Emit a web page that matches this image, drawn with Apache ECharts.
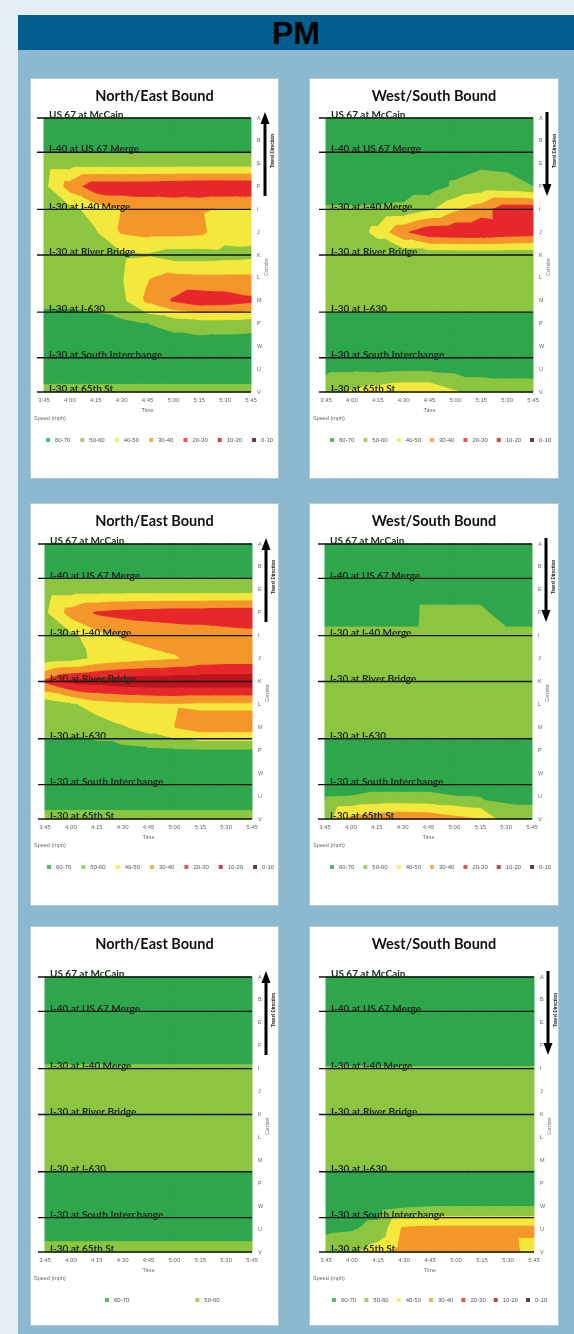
<!DOCTYPE html>
<html>
<head>
<meta charset="utf-8">
<title>PM</title>
<script src="https://cdn.jsdelivr.net/npm/echarts@6/dist/echarts.min.js"></script>
<style>
  body { margin: 0; width: 574px; height: 1334px; background: #e6eff5; position: relative; overflow: hidden; }
  #head { position: absolute; left: 18px; top: 15px; width: 556px; height: 35px; background: #005f8f;
          text-align: center; line-height: 35px; font: bold 32px "Liberation Sans", Arial, sans-serif; color: #000; }
  #panel { position: absolute; left: 18px; top: 50px; width: 556px; height: 1284px; background: #8db9d0; }
  .card { position: absolute; background: #fff; outline: 1px solid #b2c8d6; }
</style>
</head>
<body>
<div id="head">PM</div>
<div id="panel"></div>
<div class="card" id="ne-top" style="left:31px;top:79px;width:247px;height:399px"></div>
<div class="card" id="ws-top" style="left:310px;top:79px;width:248px;height:399px"></div>
<div class="card" id="ne-mid" style="left:31px;top:504px;width:247px;height:401px"></div>
<div class="card" id="ws-mid" style="left:310px;top:504px;width:248px;height:401px"></div>
<div class="card" id="ne-low" style="left:31px;top:927px;width:247px;height:398px"></div>
<div class="card" id="ws-low" style="left:310px;top:927px;width:248px;height:398px"></div>
<script>
var times = ['3:45', '4:00', '4:15', '4:30', '4:45', '5:00', '5:15', '5:30', '5:45'];
var segments = ['A', 'B', 'E', 'F', 'I', 'J', 'K', 'L', 'M', 'P', 'W', 'U', 'V'];
var landmarks = ['US 67 at McCain', 'I-40 at US 67 Merge', 'I-30 at I-40 Merge', 'I-30 at River Bridge',
  'I-30 at I-630', 'I-30 at South Interchange', 'I-30 at 65th St'];
var landmarkRow = [0, 1.5, 4, 6, 8.5, 10.5, 12];
var speedBands = ['60-70', '50-60', '40-50', '30-40', '20-30', '10-20', '0-10'];
var bandFloor = [60, 50, 40, 30, 20, 10, 0];
var bandColors = ['#2ea64c', '#8cc540', '#f4e83c', '#f4962a', '#e8272b', '#bd141c', '#3a0b0b'];

// speed (mph): one row per segment A..V, one value per time 3:45..5:45
var neTop = [
  [66, 66, 66, 66, 66, 66, 66, 66, 66],
  [65, 65, 65, 65, 65, 65, 65, 65, 65],
  [55, 55, 55, 55, 55, 55, 55, 55, 55],
  [53, 36, 24, 24, 24, 23, 22, 22, 22],
  [56, 53, 46, 40, 38, 38, 39, 41, 41],
  [57, 56, 51, 39, 37, 37, 38, 45, 46],
  [57, 56, 54, 52, 51, 55, 55, 54, 53],
  [57, 56, 55, 51, 41, 37, 38, 38, 38],
  [58, 58, 57, 53, 38, 29, 24, 25, 28],
  [64, 64, 63, 62, 60, 57, 55, 55, 56],
  [65, 65, 65, 65, 65, 65, 65, 66, 66],
  [66, 66, 66, 66, 66, 66, 66, 66, 66],
  [57, 57, 57, 57, 57, 57, 57, 57, 57]
];
var wsTop = [
  [66, 66, 66, 66, 66, 66, 66, 66, 66],
  [66, 66, 66, 66, 66, 66, 66, 66, 66],
  [65, 65, 65, 65, 65, 64, 61.5, 62, 65],
  [65, 65, 65, 65, 65, 58.5, 56, 57, 60],
  [59, 59, 59, 58, 52, 42, 35, 24, 24],
  [57, 56, 47, 32, 23, 22, 22, 24, 25],
  [58, 58, 58, 58, 58, 58, 58, 58, 58],
  [57, 57, 57, 57, 57, 57, 57, 57, 57],
  [57, 57, 57, 57, 57, 57, 57, 57, 57],
  [63, 63, 63, 63, 63, 63, 63, 63, 63],
  [65, 65, 65, 65, 65, 65, 65, 65, 65],
  [62, 62, 63, 62, 62, 63, 63, 63, 63],
  [55, 49, 45, 42, 42, 49, 55, 56, 56]
];
var neMid = [
  [66, 66, 66, 66, 66, 66, 66, 66, 66],
  [65, 65, 65, 65, 65, 65, 65, 65, 65],
  [55, 55, 55, 55, 55, 55, 55, 55, 55],
  [52, 36, 29, 27, 26, 25, 25, 24, 24],
  [55, 53, 44, 39, 37, 36, 35, 34, 33],
  [56, 54, 48, 45, 43, 41, 37, 36, 36],
  [28, 18, 16, 14, 13, 13, 13, 13, 13],
  [57, 52, 45, 43, 42, 41, 42, 42, 42],
  [57, 58, 56, 51, 46, 40, 35, 35, 35],
  [63, 63, 63, 63, 62, 61.5, 61, 61, 61],
  [65, 65, 65, 65, 65, 65, 65, 65, 65],
  [65, 65, 65, 65, 65, 65, 65, 65, 65],
  [57, 57, 57, 57, 57, 57, 57, 57, 57]
];
var wsMid = [
  [66, 66, 66, 66, 66, 66, 66, 66, 66],
  [66, 66, 66, 66, 66, 66, 66, 66, 66],
  [65, 65, 65, 65, 65, 65, 65, 65, 65],
  [65, 65, 65, 65, 57.5, 57.5, 57.5, 65, 65],
  [57, 57, 57, 57, 57, 57, 57, 57, 57],
  [57, 57, 57, 57, 57, 57, 57, 57, 57],
  [57, 57, 57, 57, 57, 57, 57, 57, 57],
  [57, 57, 57, 57, 57, 57, 57, 57, 57],
  [57, 57, 57, 57, 57, 57, 57, 57, 57],
  [63, 63, 63, 63, 63, 63, 63, 63, 63],
  [65, 65, 65, 65, 65, 65, 65, 65, 65],
  [61, 60, 59, 59, 59, 60, 61, 62, 62],
  [56, 38, 34, 32, 33, 37, 40.5, 56, 57]
];
var neLow = [
  [66, 66, 66, 66, 66, 66, 66, 66, 66],
  [65, 65, 65, 65, 65, 65, 65, 65, 65],
  [65, 65, 65, 65, 65, 65, 65, 65, 65],
  [65, 65, 65, 65, 65, 65, 65, 65, 65],
  [59, 59, 59, 59, 59, 59, 59, 59, 59],
  [57, 57, 57, 57, 57, 57, 57, 57, 57],
  [57, 57, 57, 57, 57, 57, 57, 57, 57],
  [57, 57, 57, 57, 57, 57, 57, 57, 57],
  [57, 57, 57, 57, 57, 57, 57, 57, 57],
  [63, 63, 63, 63, 63, 63, 63, 63, 63],
  [65, 65, 65, 65, 65, 65, 65, 65, 65],
  [65, 65, 65, 65, 65, 65, 65, 65, 65],
  [56, 56, 56, 56, 56, 56, 56, 56, 56]
];
var wsLow = [
  [66, 66, 66, 66, 66, 66, 66, 66, 66],
  [65, 65, 65, 65, 65, 65, 65, 65, 65],
  [65, 65, 65, 65, 65, 65, 65, 65, 65],
  [65, 65, 65, 65, 65, 65, 65, 65, 65],
  [59.5, 59.5, 59.5, 59.5, 59.5, 59.5, 59.5, 59.5, 59.5],
  [57, 57, 57, 57, 57, 57, 57, 57, 57],
  [57, 57, 57, 57, 57, 57, 57, 57, 57],
  [57, 57, 57, 57, 57, 57, 57, 57, 57],
  [57, 57, 57, 57, 57, 57, 57, 57, 57],
  [64, 64, 64, 64, 64, 64, 64, 64, 64],
  [65, 65, 65, 62, 60.5, 60.5, 60.5, 60.5, 60.5],
  [62, 61, 57, 38, 37, 37, 37, 37, 37],
  [55, 52, 45, 35, 35, 35, 35, 36, 45]
];

var cards = [
  {id: 'ne-top', title: 'North/East Bound', speeds: neTop, up: true,
   grid: {left: 13, right: 27, top: 39, bottom: 86}, legend: speedBands, legendLeft: 10, legendGap: 10},
  {id: 'ws-top', title: 'West/South Bound', speeds: wsTop, up: false,
   grid: {left: 16, right: 25, top: 39, bottom: 86}, legend: speedBands, legendLeft: 15, legendGap: 9},
  {id: 'ne-mid', title: 'North/East Bound', speeds: neMid, up: true,
   grid: {left: 14, right: 26, top: 40, bottom: 86}, legend: speedBands, legendLeft: 11, legendGap: 10},
  {id: 'ws-mid', title: 'West/South Bound', speeds: wsMid, up: false,
   grid: {left: 15, right: 26, top: 40, bottom: 86}, legend: speedBands, legendLeft: 15, legendGap: 9},
  {id: 'ne-low', title: 'North/East Bound', speeds: neLow, up: true,
   grid: {left: 14, right: 26, top: 50, bottom: 73}, legend: speedBands.slice(0, 2), legendLeft: 69, legendGap: 66},
  {id: 'ws-low', title: 'West/South Bound', speeds: wsLow, up: false,
   grid: {left: 16, right: 24, top: 50, bottom: 73}, legend: speedBands, legendLeft: 17, legendGap: 8}
];

// keep the part of a polygon on one side of a speed level (sign 1: above, -1: below)
function clip(poly, level, sign) {
  var out = [];
  for (var i = 0; i < poly.length; i++) {
    var p = poly[i], q = poly[(i + 1) % poly.length];
    var pin = sign * (p[2] - level) >= 0, qin = sign * (q[2] - level) >= 0;
    if (pin) out.push(p);
    if (pin !== qin) {
      var t = (level - p[2]) / (q[2] - p[2]);
      out.push([p[0] + t * (q[0] - p[0]), p[1] + t * (q[1] - p[1]), level]);
    }
  }
  return out;
}

function toCells(speeds) {
  var cells = [];
  for (var r = 0; r < speeds.length - 1; r++) {
    for (var c = 0; c < times.length - 1; c++) {
      cells.push([c, r, speeds[r][c], speeds[r][c + 1], speeds[r + 1][c], speeds[r + 1][c + 1]]);
    }
  }
  return cells;
}

// filled contour bands for one grid cell
function renderCell(params, api) {
  var c = api.value(0), r = api.value(1);
  function corner(dc, dr, k) {
    var p = api.coord([c + dc, r + dr]);
    return [p[0], p[1], api.value(k)];
  }
  var a = corner(0, 0, 2), b = corner(1, 0, 3), d = corner(0, 1, 4), e = corner(1, 1, 5);
  var children = [];
  [[a, b, e], [a, e, d]].forEach(function(tri) {
    for (var k = 0; k < bandFloor.length; k++) {
      var poly = clip(clip(tri, bandFloor[k], 1), bandFloor[k] + 10, -1);
      if (poly.length >= 3) {
        children.push({
          type: 'polygon',
          shape: {points: poly.map(function(p) { return [p[0], p[1]]; })},
          style: {fill: bandColors[k], stroke: bandColors[k], lineWidth: 1}
        });
      }
    }
  });
  return {type: 'group', children: children};
}

function renderLandmark(params, api) {
  var y = api.coord([0, api.value(1)])[1];
  var x0 = params.coordSys.x, x1 = x0 + params.coordSys.width;
  return {
    type: 'group',
    children: [
      {type: 'line', shape: {x1: x0 - 7, y1: y, x2: x1, y2: y}, style: {stroke: '#111', lineWidth: 1.4}},
      {type: 'text', x: x0 + 5, y: y + 2,
       style: {text: landmarks[params.dataIndex], fill: '#1c2a1c', align: 'left', verticalAlign: 'bottom',
               fontFamily: 'Lato', fontWeight: 'bold', fontSize: 10}}
    ]
  };
}

function arrowGraphic(cfg, w) {
  var ax = w - cfg.grid.right + 14;
  var top = cfg.grid.top - 6, bottom = cfg.grid.top + 78;
  var tip = cfg.up ? top : bottom;
  var base = cfg.up ? top + 12 : bottom - 12;
  return [
    {type: 'line', shape: {x1: ax, y1: cfg.up ? base : top, x2: ax, y2: cfg.up ? bottom : base},
     style: {stroke: '#000', lineWidth: 3}},
    {type: 'polygon', shape: {points: [[ax - 4.5, base], [ax + 4.5, base], [ax, tip]]}, style: {fill: '#000'}},
    {type: 'text', x: ax + 8, y: cfg.grid.top + 33, rotation: Math.PI / 2,
     style: {text: 'Travel Direction', fill: '#222', align: 'center', verticalAlign: 'middle',
             fontFamily: 'Liberation Sans', fontWeight: 'bold', fontSize: 4.5}},
    {type: 'text', x: ax + 2, y: cfg.grid.top + 149, rotation: Math.PI / 2,
     style: {text: 'Corridor', fill: '#777', align: 'center', verticalAlign: 'middle',
             fontFamily: 'Liberation Sans', fontSize: 5}}
  ];
}

cards.forEach(function(cfg) {
  var dom = document.getElementById(cfg.id);
  var w = dom.clientWidth, h = dom.clientHeight;
  var chart = echarts.init(dom, null, {renderer: 'canvas'});
  var plotBottom = h - cfg.grid.bottom;

  var series = [{
    type: 'custom',
    renderItem: renderCell,
    data: toCells(cfg.speeds),
    encode: {x: 0, y: 1},
    silent: true,
    z: 1
  }, {
    type: 'custom',
    renderItem: renderLandmark,
    data: landmarkRow.map(function(v) { return [0, v]; }),
    encode: {x: 0, y: 1},
    clip: false,
    silent: true,
    z: 5
  }];
  speedBands.forEach(function(name, i) {
    series.push({name: name, type: 'scatter', data: [], itemStyle: {color: bandColors[i]}});
  });

  chart.setOption({
    animation: false,
    title: {
      text: cfg.title, left: 'center', top: 5,
      textStyle: {fontFamily: 'Lato', fontWeight: 'bold', fontSize: 14.5, color: '#111'}
    },
    legend: {
      data: cfg.legend, left: cfg.legendLeft, top: plotBottom + 40, width: w,
      icon: 'rect', itemWidth: 4, itemHeight: 4, itemGap: cfg.legendGap,
      textStyle: {fontSize: 6, color: '#555', fontFamily: 'Liberation Sans'}
    },
    grid: cfg.grid,
    xAxis: {
      type: 'value', min: 0, max: 8, interval: 1,
      name: 'Time', nameLocation: 'middle', nameGap: 14,
      nameTextStyle: {fontSize: 5.5, color: '#666'},
      axisLine: {show: false}, axisTick: {show: false}, splitLine: {show: false},
      axisLabel: {
        fontSize: 6, color: '#666', margin: 5, showMinLabel: true, showMaxLabel: true,
        formatter: function(v) { return times[v]; }
      }
    },
    yAxis: {
      type: 'value', inverse: true, min: 0, max: 12, interval: 1, position: 'right',
      axisLine: {show: false}, axisTick: {show: false}, splitLine: {show: false},
      axisLabel: {
        fontSize: 5.5, color: '#666', margin: 6,
        formatter: function(v) { return segments[v]; }
      }
    },
    graphic: arrowGraphic(cfg, w).concat([
      {type: 'text', left: 3, top: plotBottom + 23,
       style: {text: 'Speed (mph)', fill: '#666', fontFamily: 'Liberation Sans', fontSize: 5.5}}
    ]),
    series: series
  });
});
</script>
</body>
</html>
